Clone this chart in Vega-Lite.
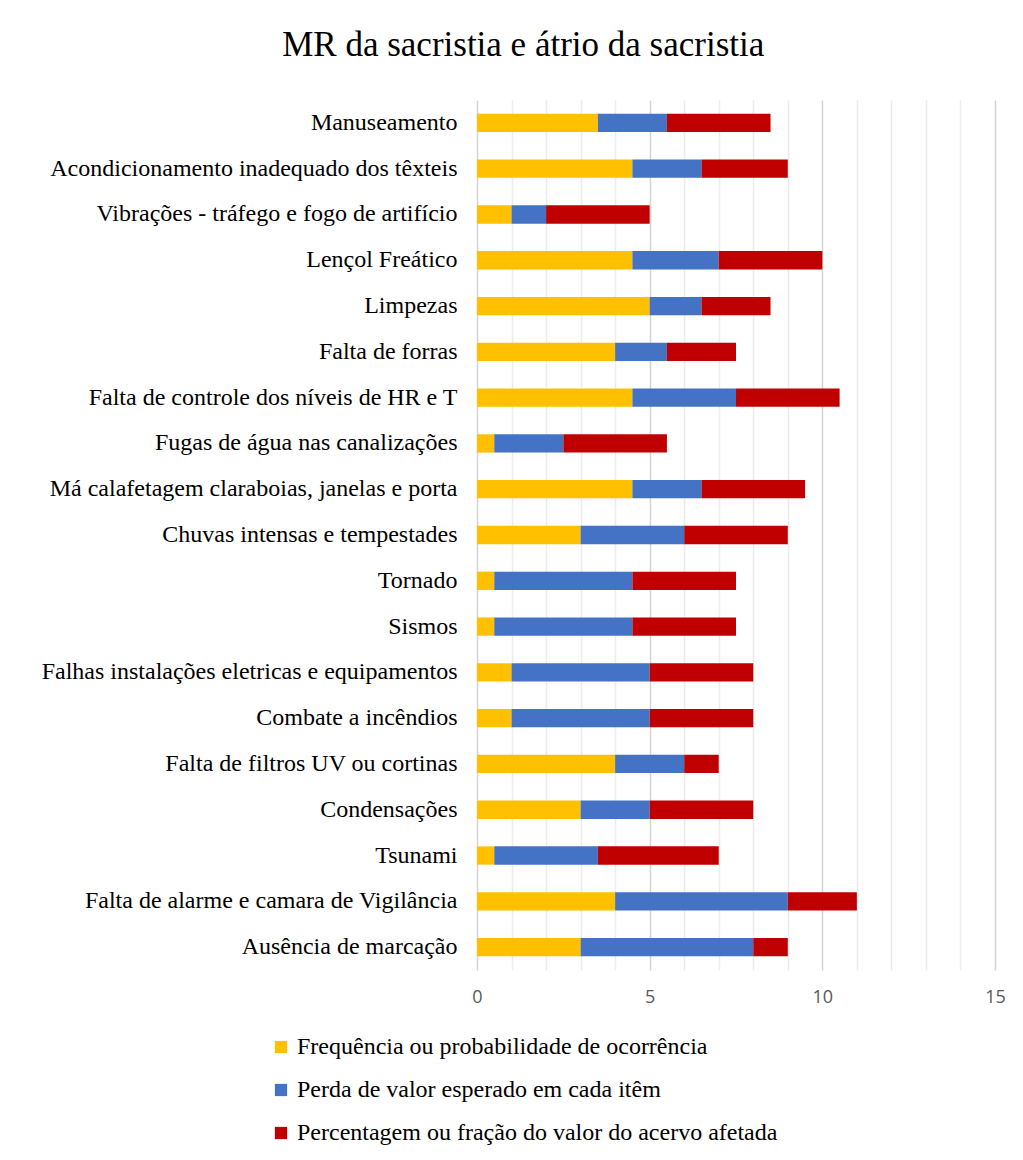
{
  "$schema": "https://vega.github.io/schema/vega-lite/v6.json",
  "width": 518,
  "height": 870,
  "padding": {"left": 41, "top": 28, "right": 10, "bottom": 5},
  "background": "white",
  "title": {
    "text": "MR da sacristia e átrio da sacristia",
    "font": "Liberation Serif",
    "fontSize": 35,
    "fontWeight": "normal",
    "color": "#000000",
    "anchor": "middle",
    "frame": "bounds",
    "offset": 37
  },
  "data": {
    "values": [
      {"risco": "Manuseamento", "serie": "Frequência ou probabilidade de ocorrência", "ordem": 1, "valor": 3.5},
      {"risco": "Manuseamento", "serie": "Perda de valor esperado em cada itêm", "ordem": 2, "valor": 2},
      {"risco": "Manuseamento", "serie": "Percentagem ou fração do valor do acervo afetada", "ordem": 3, "valor": 3},
      {"risco": "Acondicionamento inadequado dos têxteis", "serie": "Frequência ou probabilidade de ocorrência", "ordem": 1, "valor": 4.5},
      {"risco": "Acondicionamento inadequado dos têxteis", "serie": "Perda de valor esperado em cada itêm", "ordem": 2, "valor": 2},
      {"risco": "Acondicionamento inadequado dos têxteis", "serie": "Percentagem ou fração do valor do acervo afetada", "ordem": 3, "valor": 2.5},
      {"risco": "Vibrações - tráfego e fogo de artifício", "serie": "Frequência ou probabilidade de ocorrência", "ordem": 1, "valor": 1},
      {"risco": "Vibrações - tráfego e fogo de artifício", "serie": "Perda de valor esperado em cada itêm", "ordem": 2, "valor": 1},
      {"risco": "Vibrações - tráfego e fogo de artifício", "serie": "Percentagem ou fração do valor do acervo afetada", "ordem": 3, "valor": 3},
      {"risco": "Lençol Freático", "serie": "Frequência ou probabilidade de ocorrência", "ordem": 1, "valor": 4.5},
      {"risco": "Lençol Freático", "serie": "Perda de valor esperado em cada itêm", "ordem": 2, "valor": 2.5},
      {"risco": "Lençol Freático", "serie": "Percentagem ou fração do valor do acervo afetada", "ordem": 3, "valor": 3},
      {"risco": "Limpezas", "serie": "Frequência ou probabilidade de ocorrência", "ordem": 1, "valor": 5},
      {"risco": "Limpezas", "serie": "Perda de valor esperado em cada itêm", "ordem": 2, "valor": 1.5},
      {"risco": "Limpezas", "serie": "Percentagem ou fração do valor do acervo afetada", "ordem": 3, "valor": 2},
      {"risco": "Falta de forras", "serie": "Frequência ou probabilidade de ocorrência", "ordem": 1, "valor": 4},
      {"risco": "Falta de forras", "serie": "Perda de valor esperado em cada itêm", "ordem": 2, "valor": 1.5},
      {"risco": "Falta de forras", "serie": "Percentagem ou fração do valor do acervo afetada", "ordem": 3, "valor": 2},
      {"risco": "Falta de controle dos níveis de HR e T", "serie": "Frequência ou probabilidade de ocorrência", "ordem": 1, "valor": 4.5},
      {"risco": "Falta de controle dos níveis de HR e T", "serie": "Perda de valor esperado em cada itêm", "ordem": 2, "valor": 3},
      {"risco": "Falta de controle dos níveis de HR e T", "serie": "Percentagem ou fração do valor do acervo afetada", "ordem": 3, "valor": 3},
      {"risco": "Fugas de água nas canalizações", "serie": "Frequência ou probabilidade de ocorrência", "ordem": 1, "valor": 0.5},
      {"risco": "Fugas de água nas canalizações", "serie": "Perda de valor esperado em cada itêm", "ordem": 2, "valor": 2},
      {"risco": "Fugas de água nas canalizações", "serie": "Percentagem ou fração do valor do acervo afetada", "ordem": 3, "valor": 3},
      {"risco": "Má calafetagem claraboias, janelas e porta", "serie": "Frequência ou probabilidade de ocorrência", "ordem": 1, "valor": 4.5},
      {"risco": "Má calafetagem claraboias, janelas e porta", "serie": "Perda de valor esperado em cada itêm", "ordem": 2, "valor": 2},
      {"risco": "Má calafetagem claraboias, janelas e porta", "serie": "Percentagem ou fração do valor do acervo afetada", "ordem": 3, "valor": 3},
      {"risco": "Chuvas intensas e tempestades", "serie": "Frequência ou probabilidade de ocorrência", "ordem": 1, "valor": 3},
      {"risco": "Chuvas intensas e tempestades", "serie": "Perda de valor esperado em cada itêm", "ordem": 2, "valor": 3},
      {"risco": "Chuvas intensas e tempestades", "serie": "Percentagem ou fração do valor do acervo afetada", "ordem": 3, "valor": 3},
      {"risco": "Tornado", "serie": "Frequência ou probabilidade de ocorrência", "ordem": 1, "valor": 0.5},
      {"risco": "Tornado", "serie": "Perda de valor esperado em cada itêm", "ordem": 2, "valor": 4},
      {"risco": "Tornado", "serie": "Percentagem ou fração do valor do acervo afetada", "ordem": 3, "valor": 3},
      {"risco": "Sismos", "serie": "Frequência ou probabilidade de ocorrência", "ordem": 1, "valor": 0.5},
      {"risco": "Sismos", "serie": "Perda de valor esperado em cada itêm", "ordem": 2, "valor": 4},
      {"risco": "Sismos", "serie": "Percentagem ou fração do valor do acervo afetada", "ordem": 3, "valor": 3},
      {"risco": "Falhas instalações eletricas e equipamentos", "serie": "Frequência ou probabilidade de ocorrência", "ordem": 1, "valor": 1},
      {"risco": "Falhas instalações eletricas e equipamentos", "serie": "Perda de valor esperado em cada itêm", "ordem": 2, "valor": 4},
      {"risco": "Falhas instalações eletricas e equipamentos", "serie": "Percentagem ou fração do valor do acervo afetada", "ordem": 3, "valor": 3},
      {"risco": "Combate a incêndios", "serie": "Frequência ou probabilidade de ocorrência", "ordem": 1, "valor": 1},
      {"risco": "Combate a incêndios", "serie": "Perda de valor esperado em cada itêm", "ordem": 2, "valor": 4},
      {"risco": "Combate a incêndios", "serie": "Percentagem ou fração do valor do acervo afetada", "ordem": 3, "valor": 3},
      {"risco": "Falta de filtros UV ou cortinas", "serie": "Frequência ou probabilidade de ocorrência", "ordem": 1, "valor": 4},
      {"risco": "Falta de filtros UV ou cortinas", "serie": "Perda de valor esperado em cada itêm", "ordem": 2, "valor": 2},
      {"risco": "Falta de filtros UV ou cortinas", "serie": "Percentagem ou fração do valor do acervo afetada", "ordem": 3, "valor": 1},
      {"risco": "Condensações", "serie": "Frequência ou probabilidade de ocorrência", "ordem": 1, "valor": 3},
      {"risco": "Condensações", "serie": "Perda de valor esperado em cada itêm", "ordem": 2, "valor": 2},
      {"risco": "Condensações", "serie": "Percentagem ou fração do valor do acervo afetada", "ordem": 3, "valor": 3},
      {"risco": "Tsunami", "serie": "Frequência ou probabilidade de ocorrência", "ordem": 1, "valor": 0.5},
      {"risco": "Tsunami", "serie": "Perda de valor esperado em cada itêm", "ordem": 2, "valor": 3},
      {"risco": "Tsunami", "serie": "Percentagem ou fração do valor do acervo afetada", "ordem": 3, "valor": 3.5},
      {"risco": "Falta de alarme e camara de Vigilância", "serie": "Frequência ou probabilidade de ocorrência", "ordem": 1, "valor": 4},
      {"risco": "Falta de alarme e camara de Vigilância", "serie": "Perda de valor esperado em cada itêm", "ordem": 2, "valor": 5},
      {"risco": "Falta de alarme e camara de Vigilância", "serie": "Percentagem ou fração do valor do acervo afetada", "ordem": 3, "valor": 2},
      {"risco": "Ausência de marcação", "serie": "Frequência ou probabilidade de ocorrência", "ordem": 1, "valor": 3},
      {"risco": "Ausência de marcação", "serie": "Perda de valor esperado em cada itêm", "ordem": 2, "valor": 5},
      {"risco": "Ausência de marcação", "serie": "Percentagem ou fração do valor do acervo afetada", "ordem": 3, "valor": 1}
    ]
  },
  "mark": {"type": "bar"},
  "encoding": {
    "y": {
      "field": "risco",
      "type": "nominal",
      "sort": null,
      "scale": {"paddingInner": 0.6, "paddingOuter": 0.3},
      "axis": {
        "title": null,
        "domain": false,
        "ticks": false,
        "labelFont": "Liberation Serif",
        "labelFontSize": 24,
        "labelColor": "#000000",
        "labelPadding": 20,
        "labelLimit": 600
      }
    },
    "x": {
      "field": "valor",
      "type": "quantitative",
      "stack": "zero",
      "scale": {"domain": [0, 15], "nice": false},
      "axis": {
        "title": null,
        "domain": false,
        "ticks": false,
        "values": [0,1,2,3,4,5,6,7,8,9,10,11,12,13,14,15],
        "labelExpr": "datum.value % 5 === 0 ? datum.label : ''",
        "labelFlush": false,
        "labelOverlap": false,
        "labelFont": "Open Sans",
        "labelFontSize": 18,
        "labelColor": "#595959",
        "labelPadding": 18,
        "gridColor": {"condition": {"test": "datum.value % 5 === 0", "value": "#d4d4d4"}, "value": "#ececec"},
        "gridWidth": 1.5
      }
    },
    "color": {
      "field": "serie",
      "type": "nominal",
      "sort": ["Frequência ou probabilidade de ocorrência", "Perda de valor esperado em cada itêm", "Percentagem ou fração do valor do acervo afetada"],
      "scale": {
        "domain": ["Frequência ou probabilidade de ocorrência", "Perda de valor esperado em cada itêm", "Percentagem ou fração do valor do acervo afetada"],
        "range": ["#FFC000", "#4472C4", "#C00000"]
      },
      "legend": {
        "title": null,
        "orient": "none",
        "direction": "vertical",
        "legendX": -208,
        "legendY": 935,
        "symbolType": "square",
        "symbolSize": 150,
        "symbolStrokeWidth": 0,
        "labelFont": "Liberation Serif",
        "labelFontSize": 24,
        "labelColor": "#000000",
        "labelLimit": 700,
        "labelOffset": 4,
        "rowPadding": 19
      }
    },
    "order": {"field": "ordem", "type": "quantitative"}
  },
  "config": {
    "view": {"stroke": null}
  }
}
